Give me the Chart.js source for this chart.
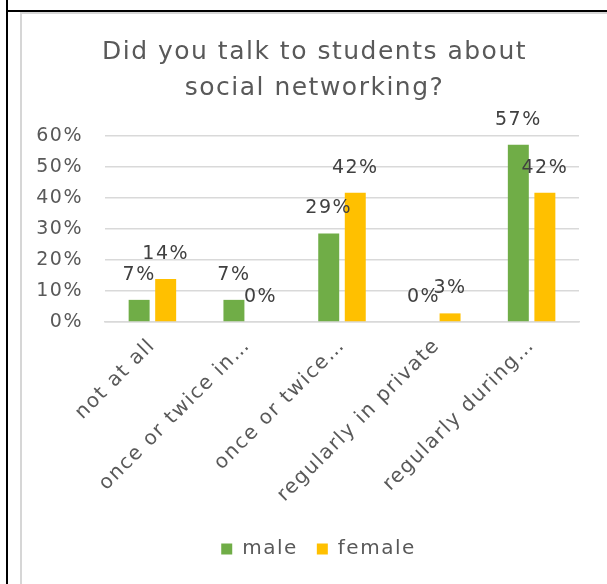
<!DOCTYPE html>
<html>
<head>
<meta charset="utf-8">
<script src="https://cdn.jsdelivr.net/npm/chart.js@4.4.1/dist/chart.umd.min.js"></script>
<style>
  html, body { margin: 0; padding: 0; background: #fff; overflow: hidden; }
  #wrap { position: relative; width: 607px; height: 584px; }
  .blk { position: absolute; background: #000; }
  #box { position: absolute; left: 20px; top: 12px; width: 620px; height: 600px;
         border-left: 2px solid #d6d6d6; border-top: 2px solid #d6d6d6; box-sizing: border-box; }
  canvas { position: absolute; left: 0; top: 0; }
</style>
</head>
<body>
<div id="wrap">
  <div class="blk" style="left:6px;top:0;width:2px;height:584px;"></div>
  <div class="blk" style="left:6px;top:10px;width:601px;height:2px;"></div>
  <div id="box"></div>
  <canvas id="c" width="607" height="584"></canvas>
</div>
<script>
const categories = ["not at all", "once or twice in…", "once or twice…", "regularly in private", "regularly during…"];
const maleValues = [7.14, 7.14, 28.57, 0, 57.14];
const femaleValues = [13.89, 0, 41.67, 2.78, 41.67];
const seriesNames = ["male", "female"];
const titleLines = ["Did you talk to students about", "social networking?"];

const FONT = "'DejaVu Sans', sans-serif";
const SPACING = "1.5px";

const dataLabels = {
  id: 'dataLabels',
  beforeLayout(chart) { chart.ctx.letterSpacing = SPACING; },
  afterLayout(chart) {
    // centre title and legend on the outer chart box (like the original)
    if (chart.titleBlock) { chart.titleBlock.left += 15; chart.titleBlock.right += 15; }
    if (chart.legend) { chart.legend.left += 19; chart.legend.right += 19; }
  },
  beforeDraw(chart) { chart.ctx.letterSpacing = SPACING; },
  afterDatasetsDraw(chart) {
    const ctx = chart.ctx;
    ctx.save();
    ctx.font = "19px " + FONT;
    ctx.fillStyle = "#404040";
    ctx.textAlign = "center";
    ctx.textBaseline = "middle";
    chart.data.datasets.forEach((ds, i) => {
      const meta = chart.getDatasetMeta(i);
      meta.data.forEach((el, j) => {
        ctx.fillText(Math.round(ds.data[j]) + "%", el.x, el.y - 25);
      });
    });
    ctx.restore();
  }
};

new Chart(document.getElementById('c'), {
  type: 'bar',
  data: {
    labels: categories,
    datasets: [
      { label: seriesNames[0], data: maleValues, backgroundColor: "#70ad47",
        categoryPercentage: 0.56, barPercentage: 0.79 },
      { label: seriesNames[1], data: femaleValues, backgroundColor: "#ffc000",
        categoryPercentage: 0.56, barPercentage: 0.79 }
    ]
  },
  options: {
    responsive: false,
    animation: false,
    layout: { padding: { left: 20, right: 28, top: 16, bottom: 15 } },
    plugins: {
      title: {
        display: true, text: titleLines, color: "#595959",
        font: { family: FONT, size: 25, weight: 'normal', lineHeight: 1.44 },
        padding: { top: 18, bottom: 30 }
      },
      legend: {
        position: 'bottom',
        labels: { color: "#595959", font: { family: FONT, size: 20 },
                  boxWidth: 11, boxHeight: 11, padding: 19 }
      },
      tooltip: { enabled: false }
    },
    scales: {
      x: {
        grid: { display: false },
        border: { color: "#d9d9d9", width: 1.5 },
        ticks: { color: "#595959", font: { family: FONT, size: 20 },
                 maxRotation: 45, minRotation: 45, autoSkip: false, padding: 4 },
        afterFit(s) { s.height = 198; }
      },
      y: {
        min: 0, max: 60,
        grid: { color: "#d9d9d9", lineWidth: 1.5, drawTicks: false },
        border: { display: false },
        ticks: { stepSize: 10, color: "#595959", font: { family: FONT, size: 19 },
                 padding: 22, callback: v => v + "%" },
        afterFit(s) { s.width = 85; }
      }
    }
  },
  plugins: [dataLabels]
});
</script>
</body>
</html>
